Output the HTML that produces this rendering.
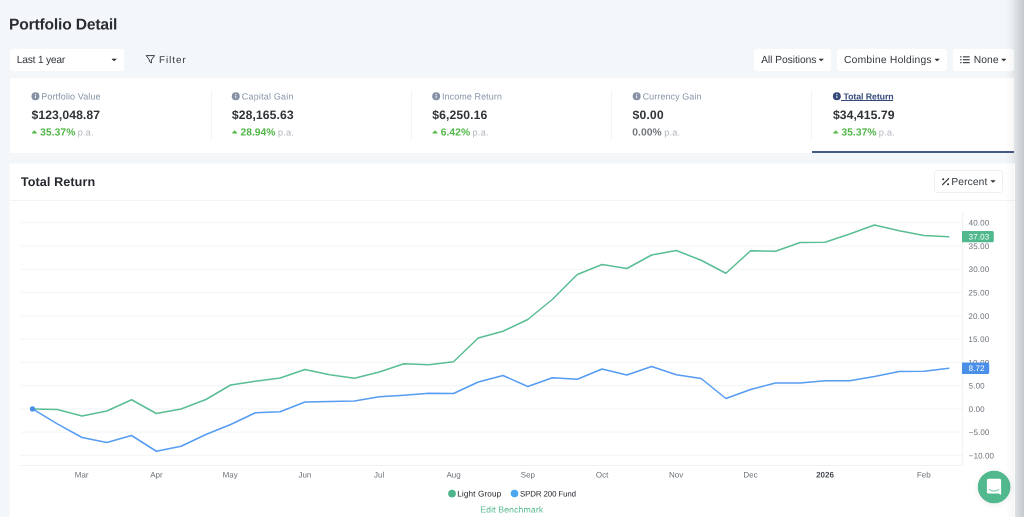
<!DOCTYPE html>
<html>
<head>
<meta charset="utf-8">
<title>Portfolio Detail</title>
<style>
*{box-sizing:border-box;margin:0;padding:0}
html,body{width:1024px;height:517px;overflow:hidden}
body{background:#f3f7fa;font-family:"Liberation Sans",sans-serif;position:relative}
.a,.t{position:absolute;white-space:nowrap}
.t{line-height:40px;text-rendering:geometricPrecision}
.btn{background:#fff;border-radius:3px}
.card{background:#fff}
</style>
</head>
<body>
<div class="a" style="left:1004px;top:0;width:20px;height:517px;background:linear-gradient(to right,#f3f7fa 0%,#f1f5f8 30%,#eceff2 50%,#e2e5e8 50%,#d5d8db 75%,#c5c9cc 100%)"></div>
<!-- controls -->
<div class="a btn" style="left:10px;top:49px;width:114px;height:22px"></div>
<div class="a btn" style="left:754px;top:49px;width:77px;height:22px"></div>
<div class="a btn" style="left:837px;top:49px;width:110px;height:22px"></div>
<div class="a btn" style="left:953px;top:49px;width:61px;height:22px"></div>

<!-- summary card -->
<div class="a card" style="left:10px;top:78px;width:1004px;height:75px"></div>
<div class="a" style="left:211px;top:90px;width:1px;height:50px;background:#f1f3f6"></div>
<div class="a" style="left:411px;top:90px;width:1px;height:50px;background:#f1f3f6"></div>
<div class="a" style="left:611px;top:90px;width:1px;height:50px;background:#f1f3f6"></div>
<div class="a" style="left:811px;top:90px;width:1px;height:50px;background:#f1f3f6"></div>
<div class="a" style="left:812px;top:151px;width:202px;height:2px;background:#465a87"></div>
<div class="a" style="left:841px;top:100px;width:52px;height:1px;background:#34497a"></div>

<!-- chart card -->
<div class="a card" style="left:9px;top:163px;width:1006px;height:360px;border:1px solid #f9fafc"></div>
<div class="a" style="left:10px;top:200px;width:1005px;height:1px;background:#f1f3f6"></div>
<div class="a" style="left:934px;top:170px;width:69px;height:23px;border:1px solid #eceff3;border-radius:3px;background:#fff"></div>

<svg class="a" style="left:0;top:0" width="1024" height="517" viewBox="0 0 1024 517">
<g fill="#f4f5f7">
<rect x="20.5" y="222.15" width="942" height="1.1"/>
<rect x="20.5" y="245.42" width="942" height="1.1"/>
<rect x="20.5" y="268.69" width="942" height="1.1"/>
<rect x="20.5" y="291.96" width="942" height="1.1"/>
<rect x="20.5" y="315.23" width="942" height="1.1"/>
<rect x="20.5" y="338.50" width="942" height="1.1"/>
<rect x="20.5" y="361.77" width="942" height="1.1"/>
<rect x="20.5" y="385.04" width="942" height="1.1"/>
<rect x="20.5" y="408.31" width="942" height="1.1"/>
<rect x="20.5" y="431.58" width="942" height="1.1"/>
<rect x="20.5" y="454.85" width="942" height="1.1"/>
</g>
<rect x="20.5" y="465" width="942.5" height="1" fill="#f0f1f4"/>
<rect x="962.2" y="213" width="1" height="252" fill="#f0f1f4"/>
<polyline fill="none" stroke="#5abe95" stroke-width="1.5" stroke-linejoin="round" stroke-linecap="round" points="32.52,408.9 57.29,409.5 82.05,416 106.81,411 131.58,399.75 156.34,413.5 181.1,409 205.87,399.5 230.63,385 255.39,381.25 280.15,378 304.92,369.5 329.68,374.75 354.44,378.25 379.21,372 403.97,363.75 428.73,364.75 453.5,361.75 478.26,338 503.02,331.25 527.78,319.5 552.55,299.25 577.31,274.5 602.07,264.5 626.84,268.5 651.6,255 676.36,250.5 701.12,260.25 725.89,273.25 750.65,250.75 775.41,251.25 800.18,242.5 824.94,242.25 849.7,234 874.47,225 899.23,230.75 923.99,235.5 948.75,236.75"/>
<polyline fill="none" stroke="#559cf2" stroke-width="1.5" stroke-linejoin="round" stroke-linecap="round" points="32.52,408.9 57.29,423.9 82.05,437.5 106.81,442.5 131.58,435.5 156.34,451.25 181.1,446.25 205.87,434.5 230.63,424.5 255.39,412.75 280.15,411.75 304.92,402 329.68,401.5 354.44,401 379.21,396.75 403.97,395.25 428.73,393.25 453.5,393.5 478.26,382 503.02,375.5 527.78,386.5 552.55,377.75 577.31,379.25 602.07,369 626.84,375 651.6,366.5 676.36,374.75 701.12,378.5 725.89,398.5 750.65,389.5 775.41,383.1 800.18,383 824.94,380.75 849.7,380.75 874.47,376.5 899.23,371.5 923.99,371.25 948.75,368.25"/>
<circle cx="32.5" cy="408.9" r="2.6" fill="#4a8fe6"/>
<circle cx="452" cy="493.6" r="3.85" fill="#4cb58a"/>
<circle cx="514.5" cy="493.6" r="3.75" fill="#4aa8f0"/>
<circle cx="35.45" cy="96.25" r="3.95" fill="#8592a6"/><rect x="34.95" y="95.65" width="1" height="2.5" fill="#fff" opacity="0.9"/><circle cx="35.45" cy="94.45" r="0.6" fill="#fff" opacity="0.9"/>
<path d="M31.90 133.20 L34.35 130.50 L36.80 133.20 Z" fill="#52b848" stroke="#52b848" stroke-width="0.5" stroke-linejoin="round"/>
<circle cx="235.75" cy="96.25" r="3.95" fill="#8592a6"/><rect x="235.25" y="95.65" width="1" height="2.5" fill="#fff" opacity="0.9"/><circle cx="235.75" cy="94.45" r="0.6" fill="#fff" opacity="0.9"/>
<path d="M232.20 133.20 L234.65 130.50 L237.10 133.20 Z" fill="#52b848" stroke="#52b848" stroke-width="0.5" stroke-linejoin="round"/>
<circle cx="436.15" cy="96.25" r="3.95" fill="#8592a6"/><rect x="435.65" y="95.65" width="1" height="2.5" fill="#fff" opacity="0.9"/><circle cx="436.15" cy="94.45" r="0.6" fill="#fff" opacity="0.9"/>
<path d="M432.60 133.20 L435.05 130.50 L437.50 133.20 Z" fill="#52b848" stroke="#52b848" stroke-width="0.5" stroke-linejoin="round"/>
<circle cx="636.6500000000001" cy="96.25" r="3.95" fill="#8592a6"/><rect x="636.15" y="95.65" width="1" height="2.5" fill="#fff" opacity="0.9"/><circle cx="636.6500000000001" cy="94.45" r="0.6" fill="#fff" opacity="0.9"/>
<circle cx="836.85" cy="96.25" r="3.95" fill="#34497a"/><rect x="836.35" y="95.65" width="1" height="2.5" fill="#fff" opacity="0.9"/><circle cx="836.85" cy="94.45" r="0.6" fill="#fff" opacity="0.9"/>
<path d="M833.30 133.20 L835.75 130.50 L838.20 133.20 Z" fill="#52b848" stroke="#52b848" stroke-width="0.5" stroke-linejoin="round"/>
<path d="M111.90 58.90 h4.4 l-2.2 2.1 z" fill="#2b2f36" stroke="#2b2f36" stroke-width="0.5" stroke-linejoin="round"/>
<path d="M819.00 59.00 h4.4 l-2.2 2.1 z" fill="#2b2f36" stroke="#2b2f36" stroke-width="0.5" stroke-linejoin="round"/>
<path d="M934.90 59.00 h4.4 l-2.2 2.1 z" fill="#2b2f36" stroke="#2b2f36" stroke-width="0.5" stroke-linejoin="round"/>
<path d="M1001.60 59.00 h4.4 l-2.2 2.1 z" fill="#2b2f36" stroke="#2b2f36" stroke-width="0.5" stroke-linejoin="round"/>
<path d="M990.80 180.40 h4.4 l-2.2 2.1 z" fill="#2b2f36" stroke="#2b2f36" stroke-width="0.5" stroke-linejoin="round"/>
<path d="M146.2 55.6 H154.6 L151.4 59.9 V63 L149.4 61.6 V59.9 Z" fill="none" stroke="#3a3f46" stroke-width="1.0" stroke-linejoin="round"/>
<rect x="960.1" y="56.30" width="1.4" height="1.1" fill="#31363d"/><rect x="962.9" y="56.30" width="6.8" height="1.1" fill="#31363d"/>
<rect x="960.1" y="59.20" width="1.4" height="1.1" fill="#31363d"/><rect x="962.9" y="59.20" width="6.8" height="1.1" fill="#31363d"/>
<rect x="960.1" y="62.10" width="1.4" height="1.1" fill="#31363d"/><rect x="962.9" y="62.10" width="6.8" height="1.1" fill="#31363d"/>
<path d="M942.6 184.7 L948.6 178.6" stroke="#2b2f36" stroke-width="1.2" stroke-linecap="round"/><circle cx="943.2" cy="179.3" r="1" fill="#2b2f36"/><circle cx="948.1" cy="184.2" r="1" fill="#2b2f36"/>
</svg>

<div class="a" style="left:0;top:0;width:2048px;height:1034px;transform:scale(0.5);transform-origin:0 0;will-change:transform">
<div class="t" style="left:18.0px;top:29px;font-size:31.2px;color:#2a2c31;font-weight:bold;letter-spacing:-0.34px;">Portfolio Detail</div>
<div class="t" style="left:33.5px;top:100px;font-size:20.6px;color:#31363d;letter-spacing:-0.48px;">Last 1 year</div>
<div class="t" style="left:318.1px;top:100px;font-size:19.6px;color:#31363d;letter-spacing:1.94px;">Filter</div>
<div class="t" style="left:1522.2px;top:100px;font-size:20.6px;color:#31363d;letter-spacing:-0.12px;">All Positions</div>
<div class="t" style="left:1688.0px;top:100px;font-size:20.6px;color:#31363d;letter-spacing:0.46px;">Combine Holdings</div>
<div class="t" style="left:1947.5px;top:100px;font-size:20.6px;color:#31363d;letter-spacing:0.14px;">None</div>
<div class="t" style="left:82.5px;top:173px;font-size:18px;color:#8592a6;letter-spacing:0.20px;">Portfolio Value</div>
<div class="t" style="left:483.6px;top:173px;font-size:18px;color:#8592a6;letter-spacing:0.38px;">Capital Gain</div>
<div class="t" style="left:883.9px;top:173px;font-size:18px;color:#8592a6;letter-spacing:0.16px;">Income Return</div>
<div class="t" style="left:1285.2px;top:173px;font-size:18px;color:#8592a6;letter-spacing:0.14px;">Currency Gain</div>
<div class="t" style="left:1687.0px;top:173px;font-size:17.6px;color:#34497a;font-weight:bold;letter-spacing:-0.18px;">Total Return</div>
<div class="t" style="left:63.0px;top:211px;font-size:24.4px;color:#303338;font-weight:bold;letter-spacing:0.14px;">$123,048.87</div>
<div class="t" style="left:463.7px;top:211px;font-size:24.4px;color:#303338;font-weight:bold;letter-spacing:0.16px;">$28,165.63</div>
<div class="t" style="left:864.5px;top:211px;font-size:24.4px;color:#303338;font-weight:bold;letter-spacing:0.18px;">$6,250.16</div>
<div class="t" style="left:1265.1px;top:211px;font-size:24.4px;color:#303338;font-weight:bold;letter-spacing:0.28px;">$0.00</div>
<div class="t" style="left:1665.9px;top:211px;font-size:24.4px;color:#303338;font-weight:bold;letter-spacing:0.12px;">$34,415.79</div>
<div class="t" style="left:80.3px;top:245px;font-size:20.6px;color:#4fb646;font-weight:bold;letter-spacing:0.12px;">35.37%</div>
<div class="t" style="left:155.2px;top:245px;font-size:18.6px;color:#b0b5bd;letter-spacing:0.30px;">p.a.</div>
<div class="t" style="left:481.1px;top:245px;font-size:20.6px;color:#4fb646;font-weight:bold;letter-spacing:-0.04px;">28.94%</div>
<div class="t" style="left:555.8px;top:245px;font-size:18.6px;color:#b0b5bd;letter-spacing:0.30px;">p.a.</div>
<div class="t" style="left:881.5px;top:245px;font-size:20.6px;color:#4fb646;font-weight:bold;letter-spacing:0.08px;">6.42%</div>
<div class="t" style="left:944.8px;top:245px;font-size:18.6px;color:#b0b5bd;letter-spacing:0.44px;">p.a.</div>
<div class="t" style="left:1264.6px;top:245px;font-size:20.6px;color:#6f747b;font-weight:bold;letter-spacing:0.06px;">0.00%</div>
<div class="t" style="left:1328.6px;top:245px;font-size:18.6px;color:#b0b5bd;letter-spacing:0.16px;">p.a.</div>
<div class="t" style="left:1682.7px;top:245px;font-size:20.6px;color:#4fb646;font-weight:bold;letter-spacing:0.12px;">35.37%</div>
<div class="t" style="left:1757.6px;top:245px;font-size:18.6px;color:#b0b5bd;letter-spacing:0.30px;">p.a.</div>
<div class="t" style="left:41.7px;top:344px;font-size:25.2px;color:#25282e;font-weight:bold;letter-spacing:0.20px;">Total Return</div>
<div class="t" style="left:1902.7px;top:344px;font-size:20.4px;color:#31363d;letter-spacing:0.28px;">Percent</div>
<div class="t" style="left:1937.3px;top:427px;font-size:16px;color:#6c7179;letter-spacing:0.24px;">40.00</div>
<div class="t" style="left:1937.3px;top:474px;font-size:16px;color:#6c7179;letter-spacing:0.24px;">35.00</div>
<div class="t" style="left:1937.3px;top:520px;font-size:16px;color:#6c7179;letter-spacing:0.24px;">30.00</div>
<div class="t" style="left:1936.8px;top:567px;font-size:16px;color:#6c7179;letter-spacing:0.38px;">25.00</div>
<div class="t" style="left:1936.8px;top:614px;font-size:16px;color:#6c7179;letter-spacing:0.38px;">20.00</div>
<div class="t" style="left:1936.8px;top:660px;font-size:16px;color:#6c7179;letter-spacing:0.38px;">15.00</div>
<div class="t" style="left:1936.8px;top:707px;font-size:16px;color:#6c7179;letter-spacing:0.38px;">10.00</div>
<div class="t" style="left:1937.3px;top:753px;font-size:16px;color:#6c7179;letter-spacing:0.26px;">5.00</div>
<div class="t" style="left:1937.3px;top:800px;font-size:16px;color:#6c7179;letter-spacing:0.26px;">0.00</div>
<div class="t" style="left:1937.6px;top:846px;font-size:16px;color:#6c7179;letter-spacing:0.16px;">−5.00</div>
<div class="t" style="left:1937.6px;top:893px;font-size:16px;color:#6c7179;letter-spacing:0.20px;">−10.00</div>
<div class="t" style="left:149.6px;top:931px;font-size:16px;color:#6c7179;">Mar</div>
<div class="t" style="left:300.4px;top:931px;font-size:16px;color:#6c7179;">Apr</div>
<div class="t" style="left:445.2px;top:931px;font-size:16px;color:#6c7179;">May</div>
<div class="t" style="left:596.9px;top:931px;font-size:16px;color:#6c7179;">Jun</div>
<div class="t" style="left:748.0px;top:931px;font-size:16px;color:#6c7179;">Jul</div>
<div class="t" style="left:892.9px;top:931px;font-size:16px;color:#6c7179;">Aug</div>
<div class="t" style="left:1041.5px;top:931px;font-size:16px;color:#6c7179;">Sep</div>
<div class="t" style="left:1191.7px;top:931px;font-size:16px;color:#6c7179;">Oct</div>
<div class="t" style="left:1338.0px;top:931px;font-size:16px;color:#6c7179;">Nov</div>
<div class="t" style="left:1486.8px;top:931px;font-size:16px;color:#6c7179;">Dec</div>
<div class="t" style="left:1632.2px;top:931px;font-size:16px;color:#454a52;font-weight:bold;">2026</div>
<div class="t" style="left:1833.8px;top:931px;font-size:16px;color:#6c7179;">Feb</div>
<div class="t" style="left:914.5px;top:968px;font-size:16.4px;color:#25282e;letter-spacing:0.22px;">Light Group</div>
<div class="t" style="left:1040.0px;top:969px;font-size:15.8px;color:#25282e;letter-spacing:-0.24px;">SPDR 200 Fund</div>
<div class="t" style="left:960.5px;top:999px;font-size:17.4px;color:#59b991;letter-spacing:0.24px;">Edit Benchmark</div>
</div>

<svg class="a" style="left:955px;top:225px" width="45" height="155" viewBox="955 225 45 155">
<path d="M962 231 H992.3 Q993.8 231 993.8 232.5 V240.7 Q993.8 242.2 992.3 242.2 H962 Z" fill="#52b98f"/>
<path d="M962 362.5 H987.7 Q989.2 362.5 989.2 364 V372.4 Q989.2 373.9 987.7 373.9 H962 Z" fill="#4a90e8"/>
</svg>
<div class="a" style="left:0;top:0;width:2048px;height:1034px;transform:scale(0.5);transform-origin:0 0;will-change:transform">
<div class="t" style="left:1937.3px;top:455px;font-size:16px;color:#ffffff;letter-spacing:0.24px;">37.03</div>
<div class="t" style="left:1937.3px;top:718px;font-size:16px;color:#ffffff;letter-spacing:0.14px;">8.72</div>
</div>

<!-- chat bubble -->
<div class="a" style="left:978px;top:471px;width:32px;height:32px;border-radius:50%;background:#52b98f;box-shadow:0 1px 6px rgba(0,0,0,0.10)"></div>
<svg class="a" style="left:970px;top:465px" width="50" height="45" viewBox="970 465 50 45"><circle cx="994.15" cy="487.05" r="16.25" fill="#52b98f"/></svg>
<svg class="a" style="left:984px;top:476px" width="20" height="22" viewBox="984 476 20 22"><path d="M988.4 478.8 H999.6 Q1001.1 478.8 1001.1 480.3 V495 L998.6 493.4 H988.4 Q986.9 493.4 986.9 491.9 V480.3 Q986.9 478.8 988.4 478.8 Z" fill="#fff"/><path d="M989.2 489.6 Q994 492.8 998.8 489.6" fill="none" stroke="#52b98f" stroke-width="0.9" stroke-linecap="round"/></svg>

<!-- right edge shade overlay on cards -->
<div class="a" style="left:1006px;top:0;width:8px;height:517px;background:linear-gradient(to right,rgba(0,0,0,0),rgba(0,0,0,0.035))"></div>
</body>
</html>
